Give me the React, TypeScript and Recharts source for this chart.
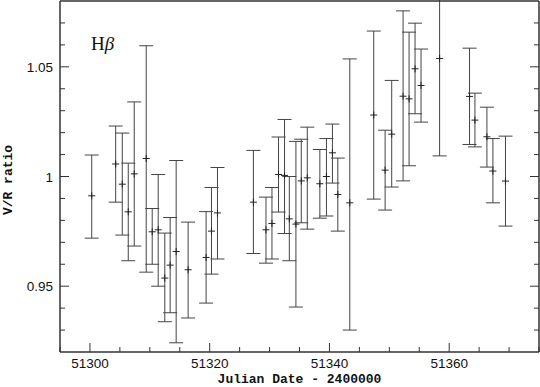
import { ScatterChart, Scatter, XAxis, YAxis, ErrorBar } from "recharts";

// Julian date - 2400000, V/R ratio and its lower / upper error
const jd = [
  51300.3, 51304.3, 51305.4, 51306.4, 51307.4, 51309.4, 51310.4, 51311.4, 51312.5, 51313.4,
  51314.4, 51316.4, 51319.4, 51320.3, 51321.3, 51327.3, 51329.4, 51330.4, 51331.5, 51332.5,
  51333.3, 51334.4, 51335.3, 51336.3, 51338.4, 51339.5, 51340.5, 51341.4, 51343.4, 51347.4,
  51349.3, 51350.4, 51352.3, 51353.3, 51354.3, 51355.3, 51358.4, 51363.4, 51364.3, 51366.3,
  51367.3, 51369.4,
];
const ratio = [
  0.9912, 1.0057, 0.9965, 0.9839, 1.0012, 1.0082, 0.9748, 0.9757, 0.9537, 0.9596,
  0.9658, 0.9575, 0.9631, 0.9751, 0.9834, 0.9883, 0.9757, 0.9786, 1.0009, 1.0005,
  0.9807, 0.9783, 0.998, 0.9994, 0.9967, 1.0, 1.0108, 0.9918, 0.988, 1.028,
  1.0029, 1.0193, 1.0366, 1.0354, 1.0491, 1.0415, 1.0538, 1.0365, 1.0257, 1.0181,
  1.0025, 0.9979,
];
const errMinus = [
  0.0193, 0.0174, 0.0232, 0.0223, 0.0329, 0.0518, 0.0148, 0.0257, 0.0199, 0.0217,
  0.0416, 0.022, 0.0208, 0.0196, 0.021, 0.0234, 0.0152, 0.0162, 0.0171, 0.0265,
  0.0191, 0.0378, 0.0191, 0.0234, 0.0157, 0.018, 0.0138, 0.0167, 0.058, 0.0383,
  0.0182, 0.0241, 0.0386, 0.0305, 0.0205, 0.0167, 0.0444, 0.0219, 0.0122, 0.0138,
  0.0145, 0.0205,
];
const errPlus = [
  0.0186, 0.0173, 0.0233, 0.0222, 0.0328, 0.0514, 0.0106, 0.0252, 0.0205, 0.0217,
  0.0415, 0.0217, 0.0209, 0.0199, 0.0207, 0.0236, 0.0149, 0.0164, 0.0171, 0.0255,
  0.0193, 0.0377, 0.019, 0.0231, 0.0156, 0.0173, 0.0131, 0.0166, 0.0656, 0.0383,
  0.0182, 0.0245, 0.0389, 0.0304, 0.0208, 0.0166, 0.0444, 0.022, 0.0123, 0.0135,
  0.0148, 0.0205,
];

const xTicks = [51295, 51300, 51305, 51310, 51315, 51320, 51325, 51330, 51335, 51340, 51345, 51350, 51355, 51360, 51365, 51370, 51375];
const xMajor = [51300, 51320, 51340, 51360];
const yTicks = [0.93, 0.94, 0.95, 0.96, 0.97, 0.98, 0.99, 1, 1.01, 1.02, 1.03, 1.04, 1.05, 1.06, 1.07];
const yMajor = [0.95, 1, 1.05];

const data = jd.map((d, i) => ({ jd: d, vr: ratio[i], err: [errMinus[i], errPlus[i]] }));

const INK = "#333";
const isMajor = (list: number[], v: number) => list.some((m) => Math.abs(m - v) < 1e-6);
const tickFont = { fontFamily: "'Liberation Sans', Arial, sans-serif", fontSize: 13.5, fill: "#111" };
const titleFont = { fontFamily: "'Liberation Mono', 'Courier New', monospace", fontSize: 13, fontWeight: 700, fill: "#111" };

const BottomTick = ({ x, y, payload }: any) => {
  const major = isMajor(xMajor, payload.value);
  return (
    <g>
      <line x1={x} y1={y} x2={x} y2={y - (major ? 9 : 5)} stroke={INK} />
      {major && (
        <text x={x} y={y + 16} textAnchor="middle" {...tickFont}>{payload.value}</text>
      )}
    </g>
  );
};

const TopTick = ({ x, y, payload }: any) => {
  const major = isMajor(xMajor, payload.value);
  return <line x1={x} y1={y} x2={x} y2={y + (major ? 9 : 5)} stroke={INK} />;
};

const LeftTick = ({ x, y, payload }: any) => {
  const major = isMajor(yMajor, payload.value);
  return (
    <g>
      <line x1={x} y1={y} x2={x + (major ? 9 : 5)} y2={y} stroke={INK} />
      {major && (
        <text x={x - 7} y={y + 5} textAnchor="end" {...tickFont}>{payload.value}</text>
      )}
    </g>
  );
};

const RightTick = ({ x, y, payload }: any) => {
  const major = isMajor(yMajor, payload.value);
  return <line x1={x} y1={y} x2={x - (major ? 9 : 5)} y2={y} stroke={INK} />;
};

const Cross = ({ cx, cy }: any) => (
  <g stroke="#222" strokeWidth={1}>
    <line x1={cx - 3.5} y1={cy} x2={cx + 3.5} y2={cy} />
    <line x1={cx} y1={cy - 3.5} x2={cx} y2={cy + 3.5} />
  </g>
);

export default function App() {
  return (
    <div style={{ position: "absolute", left: 0, top: 0, width: 540, height: 387, background: "#fff" }}>
      <ScatterChart width={540} height={387} margin={{ top: 0, right: 0, bottom: 0, left: 0 }}>
        <XAxis
          xAxisId="b" dataKey="jd" type="number" domain={[51295, 51375]} ticks={xTicks}
          orientation="bottom" height={35} interval={0} tickSize={0} tickMargin={0}
          tickLine={false} axisLine={{ stroke: INK, strokeWidth: 1.5 }} tick={<BottomTick />}
          allowDataOverflow
          label={({ viewBox }: any) => (
            <text x={viewBox.x + viewBox.width / 2} y={383} textAnchor="middle" {...titleFont}>
              Julian Date - 2400000
            </text>
          )}
        />
        <XAxis
          xAxisId="t" type="number" domain={[51295, 51375]} ticks={xTicks}
          orientation="top" height={1} interval={0} tickSize={0} tickMargin={0}
          tickLine={false} axisLine={{ stroke: INK, strokeWidth: 1.5 }} tick={<TopTick />}
          allowDataOverflow
        />
        <YAxis
          yAxisId="l" dataKey="vr" type="number" domain={[0.92, 1.08]} ticks={yTicks}
          orientation="left" width={60} interval={0} tickSize={0} tickMargin={0}
          tickLine={false} axisLine={{ stroke: INK, strokeWidth: 1.5 }} tick={<LeftTick />}
          allowDataOverflow
          label={() => (
            <text x={12} y={180} textAnchor="middle" transform="rotate(-90 12 180)" {...titleFont}>
              V/R ratio
            </text>
          )}
        />
        <YAxis
          yAxisId="r" type="number" domain={[0.92, 1.08]} ticks={yTicks}
          orientation="right" width={1} interval={0} tickSize={0} tickMargin={0}
          tickLine={false} axisLine={{ stroke: INK, strokeWidth: 1.5 }} tick={<RightTick />}
          allowDataOverflow
        />
        <Scatter data={data} xAxisId="b" yAxisId="l" shape={<Cross />} isAnimationActive={false}>
          <ErrorBar dataKey="err" direction="y" width={7} stroke="#444" strokeWidth={1} isAnimationActive={false} />
        </Scatter>
      </ScatterChart>
      <div
        style={{
          position: "absolute", left: 91, top: 34, fontFamily: "'Liberation Serif', 'DejaVu Serif', serif",
          fontSize: 19, lineHeight: 1, color: "#111",
        }}
      >
        H<i>β</i>
      </div>
    </div>
  );
}
